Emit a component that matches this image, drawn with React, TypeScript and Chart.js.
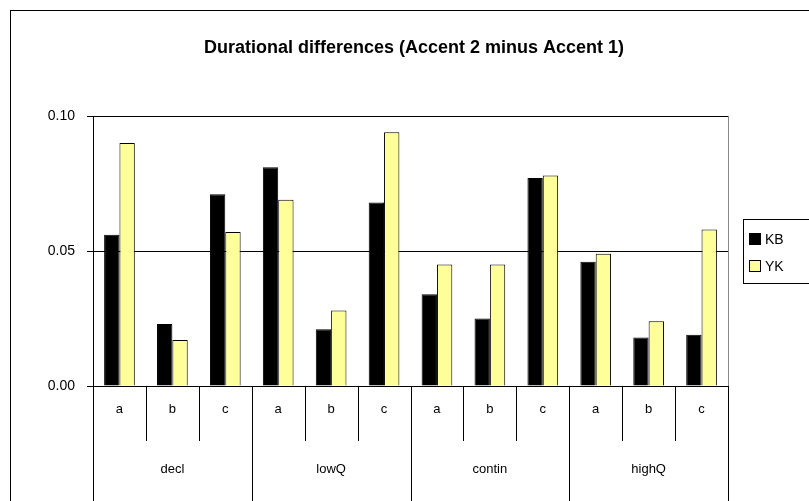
import React, { useEffect, useRef } from 'react';
import { Chart, registerables } from 'chart.js';

Chart.register(...registerables);

const groups = ['decl', 'lowQ', 'contin', 'highQ'];
const subLabels = ['a', 'b', 'c'];
const kbValues = [0.056, 0.023, 0.071, 0.081, 0.021, 0.068, 0.034, 0.025, 0.077, 0.046, 0.018, 0.019];
const ykValues = [0.090, 0.017, 0.057, 0.069, 0.028, 0.094, 0.045, 0.045, 0.078, 0.049, 0.024, 0.058];
const yTicks = [0, 0.05, 0.1];

const FONT = 'Arial, "Liberation Sans", sans-serif';

const decorPlugin = {
  id: 'decor',
  afterDraw(chart: any) {
    const { ctx, chartArea, scales } = chart;
    const x = scales.x;
    ctx.save();
    // title
    ctx.fillStyle = '#000';
    ctx.font = `bold 18px ${FONT}`;
    ctx.textAlign = 'center';
    ctx.textBaseline = 'middle';
    ctx.fillText('Durational differences (Accent 2 minus Accent 1)', 403, 37);
    // plot right border
    ctx.strokeStyle = '#888';
    ctx.lineWidth = 1;
    ctx.beginPath();
    ctx.moveTo(chartArea.right + 0.5, chartArea.top);
    ctx.lineTo(chartArea.right + 0.5, chartArea.bottom);
    ctx.stroke();
    // category separators and labels
    const n = subLabels.length * groups.length;
    const step = (chartArea.right - chartArea.left) / n;
    ctx.strokeStyle = '#000';
    for (let i = 0; i <= n; i++) {
      const px = Math.round(chartArea.left + i * step) + 0.5;
      const long = i % 3 === 0;
      ctx.beginPath();
      ctx.moveTo(px, chartArea.bottom);
      ctx.lineTo(px, long ? 520 : chartArea.bottom + 55);
      ctx.stroke();
    }
    ctx.font = `13px ${FONT}`;
    for (let i = 0; i < n; i++) {
      ctx.fillText(subLabels[i % 3], x.getPixelForValue(i), chartArea.bottom + 23);
    }
    groups.forEach((g, gi) => {
      const cx = (x.getPixelForValue(gi * 3) + x.getPixelForValue(gi * 3 + 2)) / 2;
      ctx.fillText(g, cx, chartArea.bottom + 83);
    });
    // legend
    const lx = 732, ly = 208;
    ctx.strokeStyle = '#000';
    ctx.strokeRect(lx + 0.5, ly + 0.5, 100, 64);
    const items = [
      ['KB', '#000000'],
      ['YK', '#ffff99'],
    ];
    ctx.textAlign = 'left';
    ctx.font = `14px ${FONT}`;
    items.forEach(([label, color], i) => {
      const by = ly + 20 + i * 27;
      ctx.fillStyle = color;
      ctx.fillRect(lx + 6, by - 6, 12, 12);
      ctx.strokeRect(lx + 6.5, by - 5.5, 11, 11);
      ctx.fillStyle = '#000';
      ctx.fillText(label, lx + 22, by + 1);
    });
    ctx.restore();
  },
};

const App: React.FC = () => {
  const chartRef = useRef<HTMLCanvasElement>(null);
  const chartInstance = useRef<Chart>();

  useEffect(() => {
    document.body.style.margin = '0';
    document.body.style.overflow = 'hidden';
    if (chartRef.current) {
      chartInstance.current = new Chart(chartRef.current, {
        type: 'bar',
        data: {
          labels: groups.flatMap((g) => subLabels.map((s) => `${g} ${s}`)),
          datasets: [
            { label: 'KB', data: kbValues, backgroundColor: '#000000', borderColor: '#000', borderWidth: 1 },
            { label: 'YK', data: ykValues, backgroundColor: '#ffff99', borderColor: '#000', borderWidth: 1 },
          ],
        },
        options: {
          animation: false,
          responsive: false,
          layout: { padding: { top: 105, right: 113, left: 0, bottom: 0 } },
          datasets: { bar: { barPercentage: 1, categoryPercentage: 0.58 } },
          plugins: { legend: { display: false }, tooltip: { enabled: false } },
          scales: {
            x: {
              grid: { display: false },
              ticks: { display: false },
              border: { display: true, color: '#000' },
              afterFit: (s: any) => { s.height = 145; },
            },
            y: {
              min: 0,
              max: 0.1,
              afterBuildTicks: (s: any) => { s.ticks = yTicks.map((v) => ({ value: v })); },
              afterFit: (s: any) => { s.width = 82; },
              ticks: {
                color: '#000',
                font: { family: FONT, size: 14 },
                padding: 12,
                callback: (v: any) => Number(v).toFixed(2),
              },
              grid: { color: '#000', drawTicks: true, tickLength: 6 },
              border: { display: true, color: '#000' },
            },
          },
        },
        plugins: [decorPlugin],
      });
    }
    return () => {
      chartInstance.current?.destroy();
    };
  }, []);

  return (
    <div style={{ position: 'absolute', left: 10, top: 10, width: 830, height: 520, border: '1px solid #000', background: '#fff' }}>
      <canvas ref={chartRef} width={830} height={520} />
    </div>
  );
};

export default App;
